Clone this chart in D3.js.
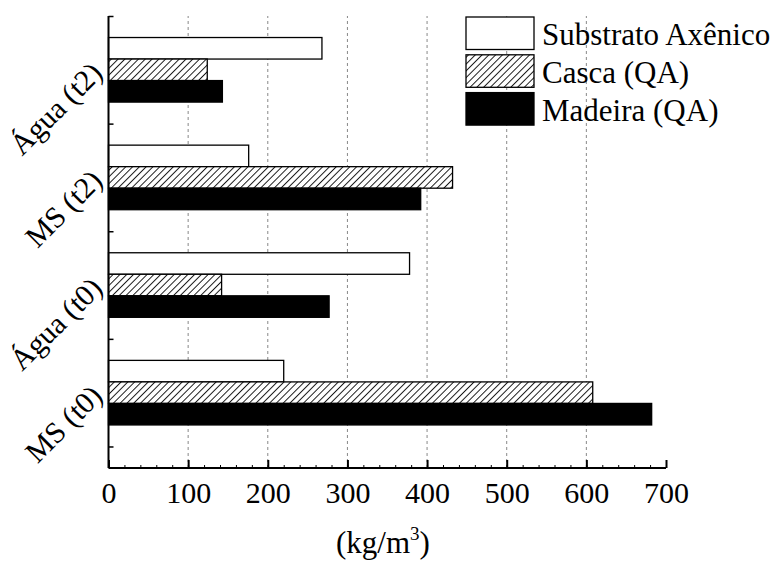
<!DOCTYPE html>
<html><head><meta charset="utf-8">
<script src="https://cdn.jsdelivr.net/npm/d3@7"></script>
<style>body{margin:0;background:#fff}svg{display:block}text{font-family:"Liberation Serif","Times New Roman",serif;fill:#000}</style>
</head><body><svg id="c" width="775" height="561"></svg>
<script>
const categories = ["MS (t0)", "Água (t0)", "MS (t2)", "Água (t2)"];
const seriesNames = ["Substrato Axênico", "Casca (QA)", "Madeira (QA)"];
const substrato = [220, 378, 176, 268];
const casca = [608, 142, 432, 124];
const madeira = [682, 277, 392, 143];
const xTicks = [0, 100, 200, 300, 400, 500, 600, 700];

const svg = d3.select("#c");
const defs = svg.append("defs");
const pat = defs.append("pattern").attr("id","hatch").attr("patternUnits","userSpaceOnUse")
  .attr("width",4.8).attr("height",10).attr("patternTransform","rotate(45)");
pat.append("rect").attr("width",4.8).attr("height",10).attr("fill","#fff");
pat.append("line").attr("x1",0.5).attr("y1",0).attr("x2",0.5).attr("y2",10).attr("stroke","#000").attr("stroke-width",0.9);

const fills = ["#fff","url(#hatch)","#000"];
const series = [substrato, casca, madeira];

const x = d3.scaleLinear().domain([0,700]).range([108.5,666]);
const y = d3.scaleLinear().domain([-0.2,4]).range([468,16]);

// grid
svg.append("g").selectAll("line").data([100,200,300,400,500,600]).join("line")
  .attr("x1",d=>x(d)).attr("x2",d=>x(d)).attr("y1",y(-0.2)).attr("y2",y(4))
  .attr("stroke","#888").attr("stroke-width",1).attr("stroke-dasharray","3,3");

// bars
const offsets = [0.1, -0.1, -0.3];
series.forEach((vals,si)=>{
  svg.append("g").selectAll("rect").data(vals).join("rect")
    .attr("x",x(0)).attr("width",d=>x(d)-x(0))
    .attr("y",(d,i)=>y(i+0.5+offsets[si]+0.2)).attr("height",(d,i)=>y(i+0.5+offsets[si])-y(i+0.5+offsets[si]+0.2))
    .attr("fill",fills[si]).attr("stroke","#000").attr("stroke-width",1.3);
});

// x axis
const gx = svg.append("g").attr("transform",`translate(0,${y(-0.2)})`);
gx.call(d3.axisBottom(x).tickValues(d3.range(0,701,20)).tickSize(-3).tickFormat(""));
gx.call(g=>g.select(".domain").remove());
gx.selectAll("line").attr("stroke-width",1);
const gx2 = svg.append("g").attr("transform",`translate(0,${y(-0.2)})`);
gx2.call(d3.axisBottom(x).tickValues(xTicks).tickSize(-8).tickPadding(13).tickFormat(d3.format("d")));
gx2.select(".domain").attr("d",`M${x(0)},0H${x(700)}`).attr("stroke-width",2);
gx2.selectAll(".tick line").attr("stroke-width",2);
gx2.selectAll("text").attr("font-size",30).attr("dy","0.72em");

// y axis
const gy = svg.append("g").attr("transform",`translate(${x(0)},0)`);
gy.call(d3.axisLeft(y).tickValues([0,1,2,3,4]).tickSize(-5).tickFormat(""));
gy.select(".domain").attr("d",`M0,${y(-0.2)}V${y(4)}`).attr("stroke-width",2);
gy.selectAll(".tick line").attr("stroke-width",1.5);

// category labels
svg.append("g").selectAll("text").data(categories).join("text")
  .attr("transform",(d,i)=>`translate(104,${y(i+0.5)+5}) rotate(-45)`)
  .attr("text-anchor","end").attr("font-size",30).text(d=>d);

// axis title
const t = svg.append("text").attr("x",383).attr("y",553).attr("text-anchor","middle").attr("font-size",31);
t.append("tspan").text("(kg/m");
t.append("tspan").attr("font-size",19).attr("dy",-13).text("3");
t.append("tspan").attr("dy",13).text(")");

// legend
const lg = svg.append("g");
seriesNames.forEach((n,i)=>{
  const yy = 17 + i*37.8;
  lg.append("rect").attr("x",466).attr("y",yy).attr("width",68).attr("height",32.5)
    .attr("fill",fills[i]).attr("stroke","#000").attr("stroke-width",1.3);
  lg.append("text").attr("x",542).attr("y",yy+28).attr("font-size",31).text(n);
});
</script></body></html>
